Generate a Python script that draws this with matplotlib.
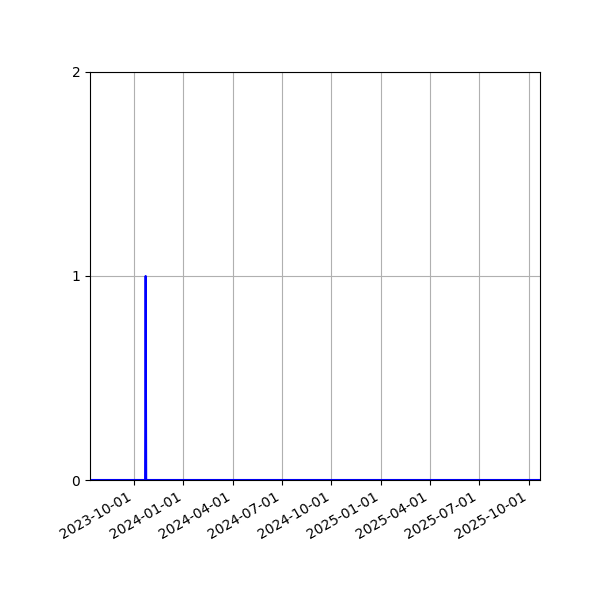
import matplotlib
matplotlib.use("Agg")
import matplotlib.pyplot as plt
import matplotlib.dates as mdates
import pandas as pd

start = "2023-07-12"
end = "2025-10-22"
event_dates = ["2023-10-23"]
event_counts = [1]

days = pd.date_range(start, end, freq="D")
counts = pd.Series(event_counts, index=pd.to_datetime(event_dates)).reindex(days, fill_value=0)

fig = plt.figure(figsize=(6, 6), dpi=100)
ax = fig.add_axes([0.15, 0.2, 0.75, 0.68])
ax.plot(counts.index, counts.values, color='blue')
ax.set_xlim(days[0], days[-1])
ax.set_ylim(0, 2)
ax.set_yticks([0, 1, 2])
ax.xaxis.set_major_locator(mdates.MonthLocator(bymonth=[1, 4, 7, 10]))
ax.xaxis.set_major_formatter(mdates.DateFormatter("%Y-%m-%d"))
ax.grid(True)
for lbl in ax.get_xticklabels():
	lbl.set_rotation(30)
	lbl.set_ha('right')

fig.savefig("out.png")
